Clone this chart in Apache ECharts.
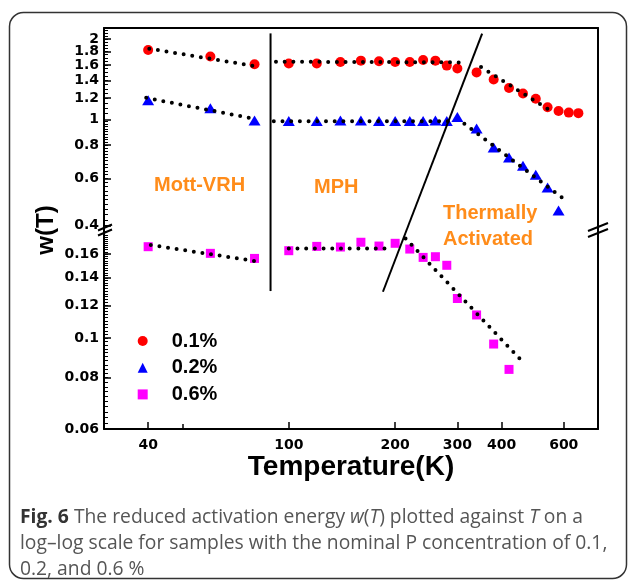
<!DOCTYPE html>
<html>
<head>
<meta charset="utf-8">
<script src="https://cdn.jsdelivr.net/npm/echarts@6/dist/echarts.min.js"></script>
<style>
html,body{margin:0;padding:0;background:#fff;}
#chart{width:629px;height:580px;}
</style>
</head>
<body>
<div id="chart"></div>
<script>
// temperature (K) and reduced activation energy w(T) per P concentration
var temps01 = [40,60,80,100,120,140,160,180,200,220,240,260,280,300,340,380,420,460,500,540,580,620,660];
var w01 = [1.82,1.72,1.61,1.62,1.62,1.64,1.66,1.65,1.64,1.64,1.67,1.66,1.59,1.55,1.50,1.41,1.31,1.25,1.195,1.11,1.075,1.06,1.055];
var temps02 = [40,60,80,100,120,140,160,180,200,220,240,260,280,300,340,380,420,460,500,540,580];
var w02 = [1.18,1.10,0.99,0.985,0.985,0.99,0.99,0.985,0.985,0.985,0.985,0.99,0.985,1.02,0.925,0.785,0.72,0.67,0.62,0.555,0.455];
var temps06 = [40,60,80,100,120,140,160,180,200,220,240,260,280,300,340,380,420];
var w06 = [0.1667,0.1606,0.1561,0.163,0.167,0.1664,0.1709,0.1673,0.1699,0.1645,0.157,0.1576,0.1502,0.1247,0.1137,0.0966,0.0838];

// dotted fits: Mott-VRH, MPH, thermally activated
var fit01 = [[[40.3,1.84],[80,1.585]], [[92,1.645],[307,1.635]], [[350,1.57],[543,1.09]]];
var fit02 = [[[39.5,1.204],[80,1.004]], [[90.7,0.983],[290,0.983]], [[314,0.962],[596,0.507]]];
var fit06 = [[[40.7,0.1683],[80.2,0.1538]], [[100,0.165],[191,0.165]], [[214,0.1746],[457,0.0878]]];

// regime boundaries (upper / lower part of the broken axis)
var vLineUp = [[88.8,2.10],[88.8,0.375]];
var vLineLow = [[88.8,0.18],[88.8,0.130]];
var slantUp = [[352.5,2.094],[213.9,0.375]];
var slantLow = [[213.9,0.18],[184.7,0.1295]];

var xTicks = [40,100,200,300,400,600];
var xMinor = [50];
var yTicksUp = [0.4,0.6,0.8,1,1.2,1.4,1.6,1.8,2];
var yLabelsUpA = [0.4,0.6,0.8,1,1.2,1.4,1.6,2];
var yLabelsUpB = [1.8];
var yTicksLow = [0.06,0.08,0.1,0.12,0.14,0.16];

var lg = function (v) { return Math.log10(v); };
var pts = function (xs, ys) { return xs.map(function (x, i) { return [lg(x), lg(ys[i])]; }); };
var seg = function (p) { return p.map(function (d) { return [lg(d[0]), lg(d[1])]; }); };
var fmt = function (v) { return String(+Math.pow(10, v).toPrecision(3)); };

var minorUp = [], minorLow = [], v;
for (v = 0.38; v < 0.999; v += 0.02) minorUp.push(lg(v));
for (v = 1.05; v < 2.2; v += 0.05) minorUp.push(lg(v));
for (v = 0.06; v < 0.181; v += 0.002) minorLow.push(lg(v));

var FONT = 'Liberation Sans';
var tickLbl = { fontFamily: 'DejaVu Sans', fontWeight: 'bold', fontSize: 14, color: '#000',
  showMinLabel: true, showMaxLabel: true, hideOverlap: false };
var noAx = { show: false };

function xAx(grid, opts) {
  return Object.assign({
    type: 'value', gridIndex: grid, min: lg(30), max: lg(750),
    splitLine: noAx, axisLabel: noAx, axisTick: noAx,
    axisLine: { show: true, onZero: false, lineStyle: { color: '#000', width: 2 } }
  }, opts);
}
function yAx(grid, lo, hi, opts) {
  return Object.assign({
    type: 'value', gridIndex: grid, min: lg(lo), max: lg(hi),
    splitLine: noAx, axisLabel: noAx, axisTick: noAx,
    axisLine: { show: true, onZero: false, lineStyle: { color: '#000', width: 2 } }
  }, opts);
}
function lbl(values) {
  return Object.assign({ show: true, margin: 5, customValues: values.map(lg), formatter: fmt }, tickLbl);
}
function tick(values, len, w) {
  return { show: true, inside: true, length: len, customValues: values, lineStyle: { color: '#000', width: w } };
}

var dotted = { color: '#000', width: 4, type: [0, 8.7], cap: 'round' };
var solid = { color: '#000', width: 2 };
function lineSeries(data, xi, yi, style) {
  return { type: 'line', xAxisIndex: xi, yAxisIndex: yi, data: seg(data), symbol: 'none',
    lineStyle: style, silent: true, z: 5, animation: false };
}

var series = [
  { name: '0.1%', type: 'scatter', xAxisIndex: 0, yAxisIndex: 0, data: pts(temps01, w01),
    symbol: 'circle', symbolSize: 10, itemStyle: { color: '#ff0000', opacity: 1 }, z: 3 },
  { name: '0.2%', type: 'scatter', xAxisIndex: 0, yAxisIndex: 0, data: pts(temps02, w02),
    symbol: 'triangle', symbolSize: [12, 10], itemStyle: { color: '#0000ff', opacity: 1 }, z: 3 },
  { name: '0.6%', type: 'scatter', xAxisIndex: 1, yAxisIndex: 4, data: pts(temps06, w06),
    symbol: 'rect', symbolSize: 9, itemStyle: { color: '#ff00ff', opacity: 1 }, z: 3 }
];
fit01.forEach(function (s) { series.push(lineSeries(s, 0, 0, dotted)); });
fit02.forEach(function (s) { series.push(lineSeries(s, 0, 0, dotted)); });
fit06.forEach(function (s) { series.push(lineSeries(s, 1, 4, dotted)); });
series.push(lineSeries(vLineUp, 0, 0, solid));
series.push(lineSeries(slantUp, 0, 0, solid));
series.push(lineSeries(vLineLow, 1, 4, solid));
series.push(lineSeries(slantLow, 1, 4, solid));

function breakMark(x, y, hw, dy, gap) {
  return {
    type: 'group', x: x, y: y, z: 100,
    children: [
      { type: 'rect', shape: { x: -hw * 0.5, y: -gap / 2, width: hw, height: gap }, style: { fill: '#fff' } },
      { type: 'line', shape: { x1: -hw, y1: dy - gap / 2, x2: hw, y2: -dy - gap / 2 }, style: { stroke: '#000', lineWidth: 2 } },
      { type: 'line', shape: { x1: -hw, y1: dy + gap / 2, x2: hw, y2: -dy + gap / 2 }, style: { stroke: '#000', lineWidth: 2 } }
    ]
  };
}
function note(txt, x, y) {
  return { type: 'text', x: x, y: y, z: 50,
    style: { text: txt, fill: '#ff8c1a', fontFamily: FONT, fontWeight: 'bold', fontSize: 20, verticalAlign: 'middle' } };
}
var capFont = { fontFamily: 'Open Sans', fontSize: 19.3 };

var chart = echarts.init(document.getElementById('chart'));
chart.setOption({
  animation: false,
  backgroundColor: '#fff',
  grid: [
    { left: 104, right: 31, top: 28, height: 205 },
    { left: 104, right: 31, top: 233, height: 196 }
  ],
  xAxis: [
    xAx(0, { position: 'top' }),
    xAx(1, { position: 'bottom',
      axisTick: tick(xTicks.map(lg), 7, 1.5),
      axisLabel: Object.assign(lbl(xTicks), { margin: 9 }),
      name: 'Temperature(K)', nameLocation: 'middle', nameGap: 24,
      nameTextStyle: { fontFamily: FONT, fontWeight: 'bold', fontSize: 28, color: '#000' } }),
    xAx(1, { position: 'bottom', axisLine: noAx, axisTick: tick(xMinor.map(lg), 5, 1.5) })
  ],
  yAxis: [
    yAx(0, 0.375, 2.2, { position: 'left', axisTick: tick(yTicksUp.map(lg), 7, 1.5), axisLabel: lbl(yLabelsUpA) }),
    yAx(0, 0.375, 2.2, { position: 'left', axisLine: noAx, axisLabel: lbl(yLabelsUpB) }),
    yAx(0, 0.375, 2.2, { position: 'left', axisLine: noAx, axisTick: tick(minorUp, 4, 1) }),
    yAx(0, 0.375, 2.2, { position: 'right' }),
    yAx(1, 0.06, 0.18, { position: 'left', axisTick: tick(yTicksLow.map(lg), 7, 1.5), axisLabel: lbl(yTicksLow) }),
    yAx(1, 0.06, 0.18, { position: 'left', axisLine: noAx, axisTick: tick(minorLow, 4, 1) }),
    yAx(1, 0.06, 0.18, { position: 'right' })
  ],
  legend: {
    orient: 'vertical', left: 137.7, top: 331, padding: 0, itemWidth: 10, itemHeight: 10, itemGap: 6.7,
    selectedMode: false,
    data: [{ name: '0.1%', icon: 'circle' }, { name: '0.2%', icon: 'triangle' }, { name: '0.6%', icon: 'rect' }],
    textStyle: { fontFamily: FONT, fontWeight: 'bold', fontSize: 20, color: '#000', padding: [0, 0, 0, 19] }
  },
  series: series,
  graphic: [
    { type: 'rect', z: 0, shape: { x: 9.5, y: 12.5, width: 617, height: 566, r: 14 },
      style: { fill: 'none', stroke: '#333', lineWidth: 1.5 } },
    breakMark(105, 230, 7, 3, 5),
    breakMark(598, 230, 10, 4, 6),
    note('Mott-VRH', 154, 185),
    note('MPH', 314, 187),
    note('Thermally', 443, 213),
    note('Activated', 443, 239),
    { type: 'text', x: 46, y: 230, rotation: Math.PI / 2, z: 50,
      style: { text: 'w(T)', fill: '#000', fontFamily: FONT, fontWeight: 'bold', fontSize: 24,
        align: 'center', verticalAlign: 'middle' } },
    { type: 'text', x: 20, y: 505, z: 50,
      style: {
        text: '{b|Fig. 6} {n|The reduced activation energy }{i|w}{n|(}{i|T}{n|) plotted against }{i|T}{n| on a}\n' +
              '{n|log–log scale for samples with the nominal P concentration of 0.1,}\n' +
              '{n|0.2, and 0.6 %}',
        fill: '#555', fontFamily: 'Open Sans', fontSize: 19.3, lineHeight: 26,
        rich: {
          b: Object.assign({ fontWeight: 'bold', fill: '#333', lineHeight: 26 }, capFont),
          n: Object.assign({ fill: '#555', lineHeight: 26 }, capFont),
          i: Object.assign({ fontStyle: 'italic', fill: '#555', lineHeight: 26 }, capFont)
        }
      } }
  ]
});
</script>
</body>
</html>
